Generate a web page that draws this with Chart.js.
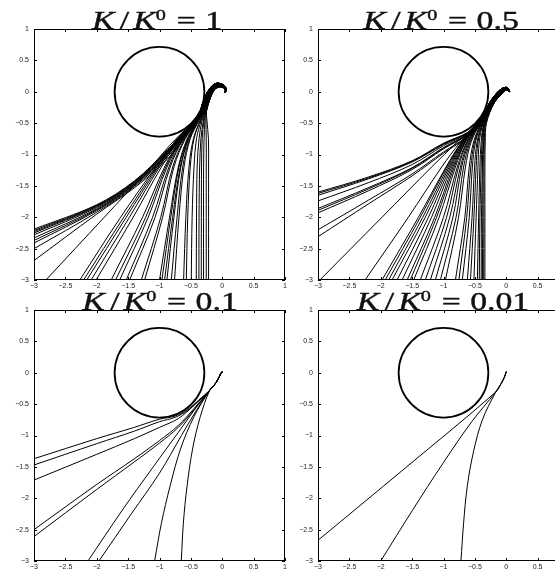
<!DOCTYPE html>
<html>
<head>
<meta charset="utf-8">
<script src="https://cdn.jsdelivr.net/npm/chart.js@4/dist/chart.umd.min.js"></script>
<style>
  html, body { margin: 0; padding: 0; background: #fff; }
  body { width: 555px; height: 573px; overflow: hidden; position: relative; }
  canvas { position: absolute; }
  .ttl {
    position: absolute;
    font-family: "Liberation Serif", "DejaVu Serif", serif;
    font-size: 25px; line-height: 25px; color: #111;
    -webkit-text-stroke: 0.4px #111;
    white-space: nowrap;
    transform-origin: 50% 50%;
    transform: translateX(-50%) scaleX(1.35);
  }
  .ttl i { font-style: italic; }
  .ttl .sl { margin: 0 3px 0 4px; }
  .ttl sup { font-size: 15px; position: relative; top: -9px; vertical-align: baseline; line-height: 0; }
  .ttl .eq { margin: 0 7px 0 8px; }
</style>
</head>
<body>
<canvas id="p0" width="300" height="300" style="left:0px;top:0px;width:300px;height:300px"></canvas>
<canvas id="p1" width="300" height="300" style="left:284px;top:0px;width:300px;height:300px"></canvas>
<canvas id="p2" width="300" height="300" style="left:0px;top:281px;width:300px;height:300px"></canvas>
<canvas id="p3" width="300" height="300" style="left:284px;top:281px;width:300px;height:300px"></canvas>
<script>
// Ratio shown in each panel title
const ratioLabels = ['1', '0.5', '0.1', '0.01'];

// Axis ticks (same for x and y in every panel)
const xTickValues = [-3, -2.5, -2, -1.5, -1, -0.5, 0, 0.5, 1];
const yTickValues = [-3, -2.5, -2, -1.5, -1, -0.5, 0, 0.5, 1];

// Obstacle circle
const circleCenter = [-1, 0];
const circleRadius = 0.715;

// ---- K/K0 = 1 ----
const leftStartsK1 = [
  [[-3,-2.19],[-2.0,-1.80],[-1.4,-1.42],[-0.87,-0.92],[-0.54,-0.565],[-0.39,-0.40]],
  [[-3,-2.21],[-2.0,-1.81],[-1.4,-1.43],[-0.87,-0.93],[-0.54,-0.57],[-0.39,-0.405]],
  [[-3,-2.23],[-2.0,-1.82],[-1.4,-1.44],[-0.87,-0.94],[-0.535,-0.575],[-0.385,-0.41]],
  [[-3,-2.25],[-2.0,-1.83],[-1.4,-1.45],[-0.87,-0.95],[-0.535,-0.58],[-0.385,-0.41]],
  [[-3,-2.28],[-2.0,-1.845],[-1.4,-1.46],[-0.87,-0.96],[-0.53,-0.585],[-0.38,-0.415]],
  [[-3,-2.33],[-2.0,-1.865],[-1.4,-1.47],[-0.87,-0.98],[-0.53,-0.59],[-0.38,-0.42]],
  [[-3,-2.37],[-2.0,-1.88],[-1.4,-1.48],[-0.87,-0.99],[-0.525,-0.595],[-0.375,-0.42]],
  [[-3,-2.41],[-2.0,-1.895],[-1.4,-1.495],[-0.87,-1.0],[-0.52,-0.60],[-0.375,-0.425]],
  [[-3,-2.50],[-2.0,-1.92],[-1.4,-1.51],[-0.87,-1.03],[-0.515,-0.61],[-0.37,-0.43]],
  [[-3,-2.69],[-2.0,-1.95],[-1.4,-1.53],[-0.87,-1.07],[-0.51,-0.62],[-0.37,-0.43]]
];
const bottomStartsK1 = [
  [[-2.81,-3],[-1.88,-2],[-1.14,-1.2],[-0.74,-0.75],[-0.43,-0.45]],
  [[-2.27,-3],[-1.62,-2],[-1.06,-1.2],[-0.72,-0.75],[-0.43,-0.45]],
  [[-2.21,-3],[-1.57,-2],[-1.04,-1.2],[-0.71,-0.75],[-0.425,-0.45]],
  [[-2.16,-3],[-1.53,-2],[-1.02,-1.2],[-0.70,-0.75],[-0.425,-0.45]],
  [[-2.09,-3],[-1.48,-2],[-1.0,-1.2],[-0.69,-0.75],[-0.42,-0.45]],
  [[-2.01,-3],[-1.42,-2],[-0.97,-1.2],[-0.68,-0.75],[-0.42,-0.45]],
  [[-1.77,-3],[-1.27,-2],[-0.92,-1.2],[-0.66,-0.75],[-0.415,-0.45]],
  [[-1.70,-3],[-1.22,-2],[-0.90,-1.2],[-0.65,-0.75],[-0.415,-0.45]],
  [[-1.635,-3],[-1.18,-2],[-0.88,-1.2],[-0.64,-0.75],[-0.41,-0.45]],
  [[-1.53,-3],[-1.11,-2],[-0.85,-1.2],[-0.63,-0.75],[-0.41,-0.45]],
  [[-1.476,-3],[-1.07,-2],[-0.83,-1.2],[-0.62,-0.75],[-0.405,-0.45]],
  [[-1.29,-3],[-0.98,-2],[-0.79,-1.2],[-0.60,-0.75],[-0.40,-0.45]],
  [[-1.237,-3],[-0.95,-2],[-0.77,-1.2],[-0.59,-0.75],[-0.40,-0.45]],
  [[-1.0,-3],[-0.84,-2],[-0.70,-1.2],[-0.56,-0.75],[-0.39,-0.45]],
  [[-0.962,-3],[-0.82,-2],[-0.69,-1.2],[-0.55,-0.75],[-0.385,-0.45]],
  [[-0.919,-3],[-0.79,-2],[-0.67,-1.2],[-0.54,-0.75],[-0.38,-0.45]],
  [[-0.882,-3],[-0.77,-2],[-0.66,-1.2],[-0.535,-0.75],[-0.38,-0.45]],
  [[-0.812,-3],[-0.72,-2],[-0.63,-1.2],[-0.52,-0.75],[-0.37,-0.45]],
  [[-0.76,-3],[-0.69,-2],[-0.61,-1.2],[-0.51,-0.75],[-0.37,-0.45]],
  [[-0.616,-3],[-0.58,-2],[-0.53,-1.2],[-0.46,-0.75],[-0.35,-0.45]],
  [[-0.573,-3],[-0.55,-2],[-0.51,-1.2],[-0.45,-0.75],[-0.345,-0.45]],
  [[-0.494,-3],[-0.48,-2],[-0.45,-1.2],[-0.41,-0.75],[-0.335,-0.45]],
  [[-0.414,-3],[-0.41,-2],[-0.40,-1.2],[-0.37,-0.75],[-0.32,-0.45]],
  [[-0.372,-3],[-0.37,-2],[-0.36,-1.2],[-0.34,-0.75],[-0.30,-0.45]],
  [[-0.334,-3],[-0.333,-2],[-0.33,-1.2],[-0.32,-0.75],[-0.29,-0.45]],
  [[-0.298,-3],[-0.298,-2],[-0.297,-1.2],[-0.29,-0.75],[-0.275,-0.45]],
  [[-0.255,-3],[-0.255,-2],[-0.255,-1.2],[-0.255,-0.75],[-0.26,-0.45]],
  [[-0.218,-3],[-0.218,-2],[-0.218,-1.2],[-0.22,-0.75],[-0.245,-0.45]]
];
// Final stretch up to the hook, from the circle side (0) to the outer side (5)
const tailsK1 = [
  [[-0.345,-0.30],[-0.285,-0.10],[-0.20,0.05],[-0.11,0.13],[-0.01,0.125],[0.05,0.08],[0.065,0.02]],
  [[-0.325,-0.30],[-0.265,-0.10],[-0.185,0.045],[-0.10,0.118],[0.0,0.113],[0.05,0.068],[0.062,0.01]],
  [[-0.305,-0.30],[-0.245,-0.10],[-0.17,0.04],[-0.09,0.106],[0.0,0.10],[0.047,0.056],[0.056,0.0]],
  [[-0.285,-0.30],[-0.225,-0.10],[-0.155,0.035],[-0.08,0.094],[0.0,0.088],[0.045,0.045],[0.05,-0.01]],
  [[-0.265,-0.30],[-0.205,-0.10],[-0.14,0.03],[-0.07,0.082],[0.005,0.077],[0.046,0.036],[0.045,-0.015]],
  [[-0.25,-0.30],[-0.19,-0.10],[-0.13,0.025],[-0.065,0.07],[0.01,0.066],[0.05,0.03],[0.04,-0.02]]
];
const tailPickK1 = [0,0,0,1,0,1,1,0,1,1,
                    0,1,0,1,2,1,2,1,2,0,2,1,2,2,3,2,3,3,2,3,4,3,4,4,5,4,5,5];

// ---- K/K0 = 0.5 ----
const leftStartsK05 = [
  [[-3,-1.60],[-2.2,-1.36],[-1.5,-1.10],[-1.0,-0.82],[-0.6,-0.64],[-0.42,-0.46],[-0.32,-0.30]],
  [[-3,-1.62],[-2.2,-1.375],[-1.5,-1.11],[-1.0,-0.83],[-0.6,-0.645],[-0.42,-0.465],[-0.32,-0.30]],
  [[-3,-1.65],[-2.2,-1.39],[-1.5,-1.12],[-1.0,-0.84],[-0.6,-0.65],[-0.415,-0.47],[-0.315,-0.305]],
  [[-3,-1.74],[-2.2,-1.45],[-1.5,-1.16],[-1.0,-0.86],[-0.6,-0.66],[-0.415,-0.48],[-0.315,-0.305]],
  [[-3,-1.86],[-2.2,-1.53],[-1.5,-1.21],[-1.0,-0.89],[-0.6,-0.67],[-0.41,-0.485],[-0.31,-0.31]],
  [[-3,-1.89],[-2.2,-1.55],[-1.5,-1.22],[-1.0,-0.90],[-0.6,-0.675],[-0.41,-0.49],[-0.31,-0.31]],
  [[-3,-1.93],[-2.2,-1.58],[-1.5,-1.24],[-1.0,-0.91],[-0.6,-0.68],[-0.405,-0.49],[-0.305,-0.315]],
  [[-3,-2.20],[-2.2,-1.73],[-1.5,-1.31],[-1.0,-0.96],[-0.6,-0.70],[-0.40,-0.505],[-0.30,-0.32]],
  [[-3,-2.31],[-2.2,-1.79],[-1.5,-1.34],[-1.0,-0.98],[-0.6,-0.71],[-0.40,-0.51],[-0.30,-0.32]]
];
const bottomStartsK05 = [
  [[-2.97,-3],[-1.98,-2],[-1.19,-1.2],[-0.78,-0.8],[-0.47,-0.5]],
  [[-2.25,-3],[-1.56,-2],[-1.03,-1.2],[-0.73,-0.8],[-0.465,-0.5]],
  [[-1.98,-3],[-1.40,-2],[-0.96,-1.2],[-0.71,-0.8],[-0.46,-0.5]],
  [[-1.93,-3],[-1.37,-2],[-0.95,-1.2],[-0.705,-0.8],[-0.46,-0.5]],
  [[-1.875,-3],[-1.33,-2],[-0.93,-1.2],[-0.70,-0.8],[-0.455,-0.5]],
  [[-1.82,-3],[-1.29,-2],[-0.91,-1.2],[-0.69,-0.8],[-0.455,-0.5]],
  [[-1.74,-3],[-1.24,-2],[-0.89,-1.2],[-0.68,-0.8],[-0.45,-0.5]],
  [[-1.66,-3],[-1.19,-2],[-0.87,-1.2],[-0.67,-0.8],[-0.45,-0.5]],
  [[-1.58,-3],[-1.14,-2],[-0.85,-1.2],[-0.66,-0.8],[-0.445,-0.5]],
  [[-1.53,-3],[-1.11,-2],[-0.83,-1.2],[-0.655,-0.8],[-0.445,-0.5]],
  [[-1.475,-3],[-1.07,-2],[-0.81,-1.2],[-0.65,-0.8],[-0.44,-0.5]],
  [[-1.37,-3],[-1.00,-2],[-0.78,-1.2],[-0.63,-0.8],[-0.435,-0.5]],
  [[-1.29,-3],[-0.95,-2],[-0.76,-1.2],[-0.62,-0.8],[-0.43,-0.5]],
  [[-1.21,-3],[-0.90,-2],[-0.73,-1.2],[-0.605,-0.8],[-0.425,-0.5]],
  [[-1.13,-3],[-0.85,-2],[-0.71,-1.2],[-0.59,-0.8],[-0.42,-0.5]],
  [[-1.05,-3],[-0.80,-2],[-0.68,-1.2],[-0.575,-0.8],[-0.415,-0.5]],
  [[-0.97,-3],[-0.76,-2],[-0.65,-1.2],[-0.56,-0.8],[-0.41,-0.5]],
  [[-0.81,-3],[-0.66,-2],[-0.59,-1.2],[-0.52,-0.8],[-0.40,-0.5]],
  [[-0.755,-3],[-0.63,-2],[-0.565,-1.2],[-0.505,-0.8],[-0.395,-0.5]],
  [[-0.70,-3],[-0.59,-2],[-0.54,-1.2],[-0.49,-0.8],[-0.39,-0.5]],
  [[-0.62,-3],[-0.545,-2],[-0.505,-1.2],[-0.465,-0.8],[-0.38,-0.5]],
  [[-0.57,-3],[-0.515,-2],[-0.48,-1.2],[-0.45,-0.8],[-0.375,-0.5]],
  [[-0.515,-3],[-0.48,-2],[-0.45,-1.2],[-0.43,-0.8],[-0.365,-0.5]],
  [[-0.46,-3],[-0.44,-2],[-0.42,-1.2],[-0.40,-0.8],[-0.355,-0.5]],
  [[-0.43,-3],[-0.42,-2],[-0.40,-1.2],[-0.385,-0.8],[-0.35,-0.5]],
  [[-0.40,-3],[-0.395,-2],[-0.38,-1.2],[-0.37,-0.8],[-0.34,-0.5]],
  [[-0.38,-3],[-0.375,-2],[-0.37,-1.2],[-0.36,-0.8],[-0.335,-0.5]],
  [[-0.36,-3],[-0.357,-2],[-0.355,-1.2],[-0.35,-0.8],[-0.325,-0.5]],
  [[-0.34,-3],[-0.34,-2],[-0.34,-1.2],[-0.335,-0.8],[-0.315,-0.5]]
];
const tailsK05 = [
  [[-0.25,-0.15],[-0.15,-0.02],[-0.07,0.05],[0.0,0.07],[0.045,0.04]],
  [[-0.235,-0.155],[-0.135,-0.03],[-0.06,0.04],[0.005,0.06],[0.05,0.025]],
  [[-0.22,-0.16],[-0.12,-0.04],[-0.05,0.03],[0.01,0.05],[0.05,0.01]],
  [[-0.205,-0.165],[-0.105,-0.05],[-0.04,0.02],[0.02,0.04],[0.055,0.005]],
  [[-0.19,-0.17],[-0.095,-0.06],[-0.03,0.01],[0.025,0.03],[0.05,-0.005]]
];
const tailPickK05 = [0,0,0,1,0,1,1,1,2,
                     0,0,0,1,0,1,1,1,2,1,2,2,1,2,2,2,3,2,3,3,3,3,4,3,4,4,4,4,4];

// ---- K/K0 = 0.1 ----
const curvesK01 = [
  [[-3,-1.37],[-2.0,-1.05],[-1.4,-0.87],[-1.0,-0.74],[-0.75,-0.69],[-0.55,-0.585],[-0.38,-0.44],[-0.2,-0.28]],
  [[-3,-1.47],[-2.0,-1.13],[-1.4,-0.93],[-1.0,-0.78],[-0.75,-0.71],[-0.55,-0.60],[-0.38,-0.45],[-0.2,-0.28]],
  [[-3,-1.71],[-2.0,-1.30],[-1.4,-1.05],[-1.0,-0.87],[-0.7,-0.73],[-0.45,-0.52],[-0.2,-0.28]],
  [[-3,-2.50],[-2.0,-1.78],[-1.4,-1.37],[-1.0,-1.08],[-0.7,-0.84],[-0.45,-0.57],[-0.2,-0.28]],
  [[-3,-2.61],[-2.0,-1.86],[-1.4,-1.42],[-1.0,-1.12],[-0.7,-0.87],[-0.45,-0.59],[-0.2,-0.28]],
  [[-2.14,-3],[-1.6,-2.2],[-1.1,-1.5],[-0.7,-0.95],[-0.42,-0.56],[-0.2,-0.28]],
  [[-1.965,-3],[-1.45,-2.25],[-1.0,-1.6],[-0.65,-1.0],[-0.4,-0.58],[-0.2,-0.28]],
  [[-1.078,-3],[-0.97,-2.4],[-0.83,-1.8],[-0.66,-1.2],[-0.45,-0.7],[-0.2,-0.28]],
  [[-0.653,-3],[-0.62,-2.4],[-0.56,-1.8],[-0.47,-1.2],[-0.35,-0.7],[-0.2,-0.28]]
];
const tailK01 = [[-0.1,-0.16],[-0.04,-0.05],[-0.01,0.01],[0.005,0.01]];

// ---- K/K0 = 0.01 ----
const curvesK001 = [
  [[-3,-2.67],[-1.6,-1.51],[-0.17,-0.31]],
  [[-2.0,-3],[-1.5,-2.2],[-1.0,-1.43],[-0.55,-0.78],[-0.17,-0.31]],
  [[-0.722,-3],[-0.68,-2.4],[-0.62,-1.8],[-0.52,-1.25],[-0.38,-0.75],[-0.17,-0.31]]
];
const tailK001 = [[-0.08,-0.17],[-0.025,-0.06],[0.0,0.02]];

// Minus sign as in the printed axes
function fmtTick(v) {
  return v < 0 ? '\u2212' + String(-v) : String(v);
}

// Box around the plot area with inward tick marks on all four sides
const framePlugin = {
  id: 'frame',
  afterDatasetsDraw(chart) {
    const { ctx, chartArea: a, scales } = chart;
    const len = 3;
    ctx.save();
    ctx.strokeStyle = '#000';
    ctx.lineWidth = 1;
    ctx.strokeRect(a.left + 0.5, a.top + 0.5, a.right - a.left - 1, a.bottom - a.top - 1);
    ctx.beginPath();
    scales.x.ticks.forEach(t => {
      const px = Math.round(scales.x.getPixelForValue(t.value)) + 0.5;
      ctx.moveTo(px, a.bottom); ctx.lineTo(px, a.bottom - len);
      ctx.moveTo(px, a.top); ctx.lineTo(px, a.top + len);
    });
    scales.y.ticks.forEach(t => {
      const py = Math.round(scales.y.getPixelForValue(t.value)) + 0.5;
      ctx.moveTo(a.left, py); ctx.lineTo(a.left + len, py);
      ctx.moveTo(a.right, py); ctx.lineTo(a.right - len, py);
    });
    ctx.stroke();
    ctx.restore();
  }
};

function toXY(pts) { return pts.map(p => ({ x: p[0], y: p[1] })); }

function buildPanel(canvasId, paths) {
  const datasets = paths.map(pts => ({
    data: toXY(pts),
    showLine: true,
    borderColor: '#000',
    borderWidth: 1,
    pointRadius: 0,
    pointHoverRadius: 0,
    tension: 0.35,
    fill: false
  }));
  // The obstacle: one point whose radius is the circle radius measured on the x scale
  datasets.push({
    data: [{ x: circleCenter[0], y: circleCenter[1] }],
    showLine: false,
    pointStyle: 'circle',
    pointRadius: ctx => {
      const sx = ctx.chart.scales.x;
      return Math.abs(sx.getPixelForValue(circleCenter[0] + circleRadius) - sx.getPixelForValue(circleCenter[0]));
    },
    pointHoverRadius: 0,
    pointBorderColor: '#000',
    pointBorderWidth: 1.8,
    pointBackgroundColor: 'rgba(0,0,0,0)'
  });
  const tickFont = { family: '"Liberation Sans", Arial, sans-serif', size: 7 };
  return new Chart(document.getElementById(canvasId), {
    type: 'scatter',
    data: { datasets },
    options: {
      responsive: false,
      devicePixelRatio: 1,
      animation: false,
      events: [],
      layout: { padding: { left: 0, top: 29, right: 15, bottom: 8 } },
      plugins: { legend: { display: false }, tooltip: { enabled: false }, title: { display: false } },
      scales: {
        x: {
          type: 'linear', min: -3, max: 1,
          afterBuildTicks: s => { s.ticks = xTickValues.map(v => ({ value: v })); },
          afterFit: s => { s.height = 12; },
          grid: { display: false, drawTicks: false },
          border: { display: false },
          ticks: { font: tickFont, color: '#222', padding: 2, maxRotation: 0, autoSkip: false, callback: fmtTick }
        },
        y: {
          type: 'linear', min: -3, max: 1,
          afterBuildTicks: s => { s.ticks = yTickValues.map(v => ({ value: v })); },
          afterFit: s => { s.width = 34; },
          grid: { display: false, drawTicks: false },
          border: { display: false },
          ticks: { font: tickFont, color: '#222', padding: 5, autoSkip: false, callback: fmtTick }
        }
      }
    },
    plugins: [framePlugin]
  });
}

function withTails(curves, tails, picks) {
  return curves.map((c, i) => c.concat(tails[picks[i]]));
}

buildPanel('p0', withTails(leftStartsK1.concat(bottomStartsK1), tailsK1, tailPickK1));
buildPanel('p1', withTails(leftStartsK05.concat(bottomStartsK05), tailsK05, tailPickK05));
buildPanel('p2', curvesK01.map(c => c.concat(tailK01)));
buildPanel('p3', curvesK001.map(c => c.concat(tailK001)));

// Panel titles: K/K^0 = value, centred over each plot
const titleCenters = [[157, 8], [441, 8], [160, 289], [443, 289]];
ratioLabels.forEach((lab, i) => {
  const d = document.createElement('div');
  d.className = 'ttl';
  d.style.left = titleCenters[i][0] + 'px';
  d.style.top = titleCenters[i][1] + 'px';
  d.innerHTML = '<i>K</i><span class="sl">/</span><i>K</i><sup>0</sup><span class="eq">=</span>' + lab;
  document.body.appendChild(d);
});
</script>
</body>
</html>
